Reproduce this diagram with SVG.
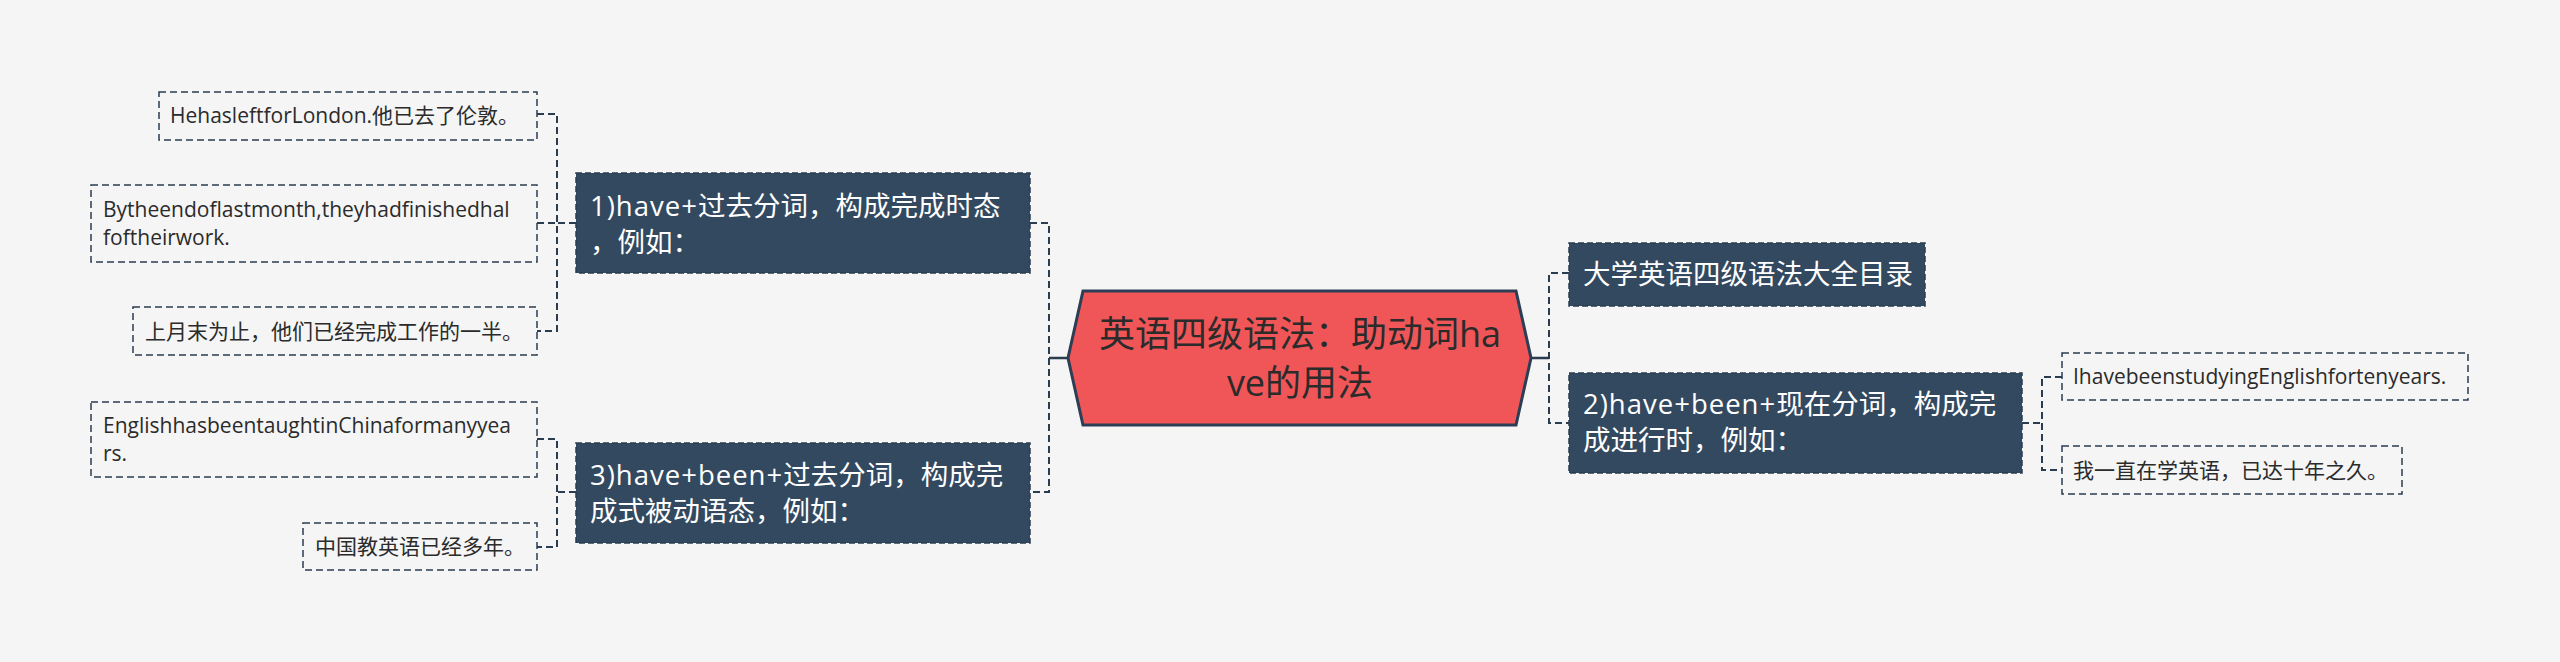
<svg xmlns="http://www.w3.org/2000/svg" width="2560" height="662" viewBox="0 0 2560 662">
<style>
text{font-family:"Open Sans","Noto Sans CJK SC",sans-serif}
.root{font-size:36px;fill:#2b2b2b}
.l1{font-size:27.5px;fill:#ffffff}
.lat{letter-spacing:1px}
.leaf{font-size:21px;fill:#2b2b2b}
.b1{fill:#33495f;stroke:#2a3c50;stroke-width:1.5;stroke-dasharray:6 3}
.bl{fill:none;stroke:#2a3c50;stroke-width:1.5;stroke-dasharray:7 4}
.c{fill:none;stroke:#2a3c50;stroke-width:2;stroke-dasharray:7 4}
.s{fill:none;stroke:#2a3c50;stroke-width:2.5}
</style>
<rect width="2560" height="662" fill="#f5f5f5"/>
<g id="connectors">
<path class="s" d="M1068 358H1049M1531 358H1549"/>
<path class="c" d="M1030 223H1049V492H1030"/>
<path class="c" d="M1569 273H1549V423H1569"/>
<path class="c" d="M576 223H557M537 114H557V331H537M537 223H557"/>
<path class="c" d="M576 492H557M537 439H557V547H537"/>
<path class="c" d="M2022 423H2042M2062 377H2042V470H2062"/>
</g>
<g id="root">
<polygon points="1083,291 1516,291 1531,358 1516,425 1083,425 1068,358" fill="#f05658" stroke="#2c3e55" stroke-width="3"/>
<text class="root" x="1300" y="347" text-anchor="middle">英语四级语法：助动词ha</text>
<text class="root" x="1300" y="396" text-anchor="middle">ve的用法</text>
</g>
<g id="n1">
<rect class="b1" x="576" y="173" width="454" height="100"/>
<text class="l1" x="590" y="216"><tspan class="lat">1)have+</tspan>过去分词，构成完成时态</text>
<text class="l1" x="590" y="252">，例如：</text>
</g>
<g id="n3">
<rect class="b1" x="576" y="443" width="454" height="100"/>
<text class="l1" x="590" y="485"><tspan class="lat">3)have+been+</tspan>过去分词，构成完</text>
<text class="l1" x="590" y="521">成式被动语态，例如：</text>
</g>
<g id="n0">
<rect class="b1" x="1569" y="243" width="356" height="63"/>
<text class="l1" x="1583" y="284">大学英语四级语法大全目录</text>
</g>
<g id="n2">
<rect class="b1" x="1569" y="373" width="453" height="100"/>
<text class="l1" x="1583" y="414"><tspan class="lat">2)have+been+</tspan>现在分词，构成完</text>
<text class="l1" x="1583" y="450">成进行时，例如：</text>
</g>
<g id="leaf1">
<rect class="bl" x="159" y="92" width="378" height="48"/>
<text class="leaf" x="170" y="123">HehasleftforLondon.他已去了伦敦。</text>
</g>
<g id="leaf2">
<rect class="bl" x="91" y="185" width="446" height="77"/>
<text class="leaf" x="103" y="217">Bytheendoflastmonth,theyhadfinishedhal</text>
<text class="leaf" x="103" y="245">foftheirwork.</text>
</g>
<g id="leaf3">
<rect class="bl" x="133" y="307" width="404" height="48"/>
<text class="leaf" x="145" y="339">上月末为止，他们已经完成工作的一半。</text>
</g>
<g id="leaf4">
<rect class="bl" x="91" y="402" width="446" height="75"/>
<text class="leaf" x="103" y="433">EnglishhasbeentaughtinChinaformanyyea</text>
<text class="leaf" x="103" y="461">rs.</text>
</g>
<g id="leaf5">
<rect class="bl" x="303" y="523" width="234" height="47"/>
<text class="leaf" x="315" y="554">中国教英语已经多年。</text>
</g>
<g id="leaf6">
<rect class="bl" x="2062" y="353" width="406" height="47"/>
<text class="leaf" x="2073" y="384">IhavebeenstudyingEnglishfortenyears.</text>
</g>
<g id="leaf7">
<rect class="bl" x="2062" y="446" width="340" height="48"/>
<text class="leaf" x="2073" y="478">我一直在学英语，已达十年之久。</text>
</g>
</svg>
